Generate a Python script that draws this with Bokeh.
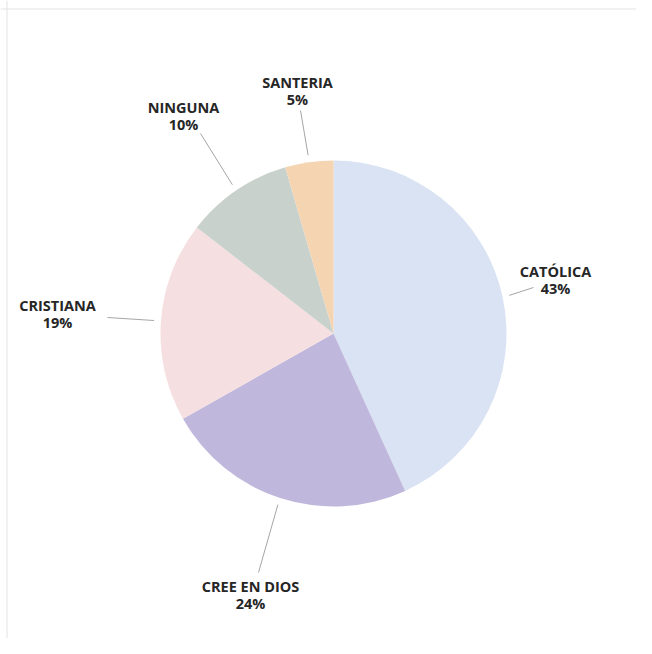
import math
from bokeh.plotting import figure
from bokeh.models import Range1d, Span, ColumnDataSource
from bokeh.core.properties import value
from bokeh.embed import file_html
from bokeh.resources import INLINE

# ---- data ----
categories = ["CATÓLICA", "CREE EN DIOS", "CRISTIANA", "NINGUNA", "SANTERIA"]
shares = [43.2, 23.6, 18.7, 10.0, 4.5]
pct_labels = ["43%", "24%", "19%", "10%", "5%"]
colors = ["#dae3f3", "#c0b8dc", "#f6dfe0", "#c9d1cc", "#f5d4b2"]

# ---- layout (pixel offsets from pie centre, y up) ----
label_off = [(222, 54), (-83, -261), (-276, 20), (-150, 218), (-36, 243)]
leader_end = [(200, 46), (-75, -239), (-226, 16), (-133, 200), (-33, 223)]

W, H = 636, 638
S = 173.0          # pixels per unit radius
CX, CY = 333, 333  # pie centre in canvas pixels

p = figure(width=W, height=H, output_backend="svg", toolbar_location=None,
           x_range=Range1d(-CX / S, (W - CX) / S),
           y_range=Range1d(-(H - CY) / S, CY / S),
           min_border=0)
p.axis.visible = False
p.grid.visible = False
p.outline_line_color = None
p.background_fill_color = "white"
p.border_fill_color = "white"

# faint frame lines (top and left)
p.add_layout(Span(location=(CY - 8.5) / S, dimension="width", line_color="#e3e3e3", line_width=1))
p.add_layout(Span(location=(6.5 - CX) / S, dimension="height", line_color="#e3e3e3", line_width=1))

total = sum(shares)
starts, ends, mids = [], [], []
acc = 0.0
for v in shares:
    a0 = math.pi / 2 - 2 * math.pi * acc / total
    acc += v
    a1 = math.pi / 2 - 2 * math.pi * acc / total
    starts.append(a0)
    ends.append(a1)
    mids.append((a0 + a1) / 2)

src = ColumnDataSource(dict(start=starts, end=ends, color=colors))
p.wedge(x=0, y=0, radius=1.0, start_angle="start", end_angle="end",
        direction="clock", fill_color="color", line_color=None, source=src)

# leader lines
for m, (ex, ey) in zip(mids, leader_end):
    r0 = 1.04
    p.line([r0 * math.cos(m), ex / S], [r0 * math.sin(m), ey / S],
           line_color="#a6a6a6", line_width=1)

# labels
lx = [o[0] / S for o in label_off]
ly = [o[1] / S for o in label_off]
lsrc = ColumnDataSource(dict(
    x=lx,
    yn=[y + 8.5 / S for y in ly],
    yp=[y - 8.5 / S for y in ly],
    name=categories, pct=pct_labels))
for col, ycol in (("name", "yn"), ("pct", "yp")):
    p.text(x="x", y=ycol, text=col, source=lsrc, text_align="center",
           text_baseline="middle", text_font=value("Open Sans"),
           text_font_style="bold", text_font_size="14.5px", text_color="#262626")

open("out.html", "w").write(file_html(p, INLINE))
